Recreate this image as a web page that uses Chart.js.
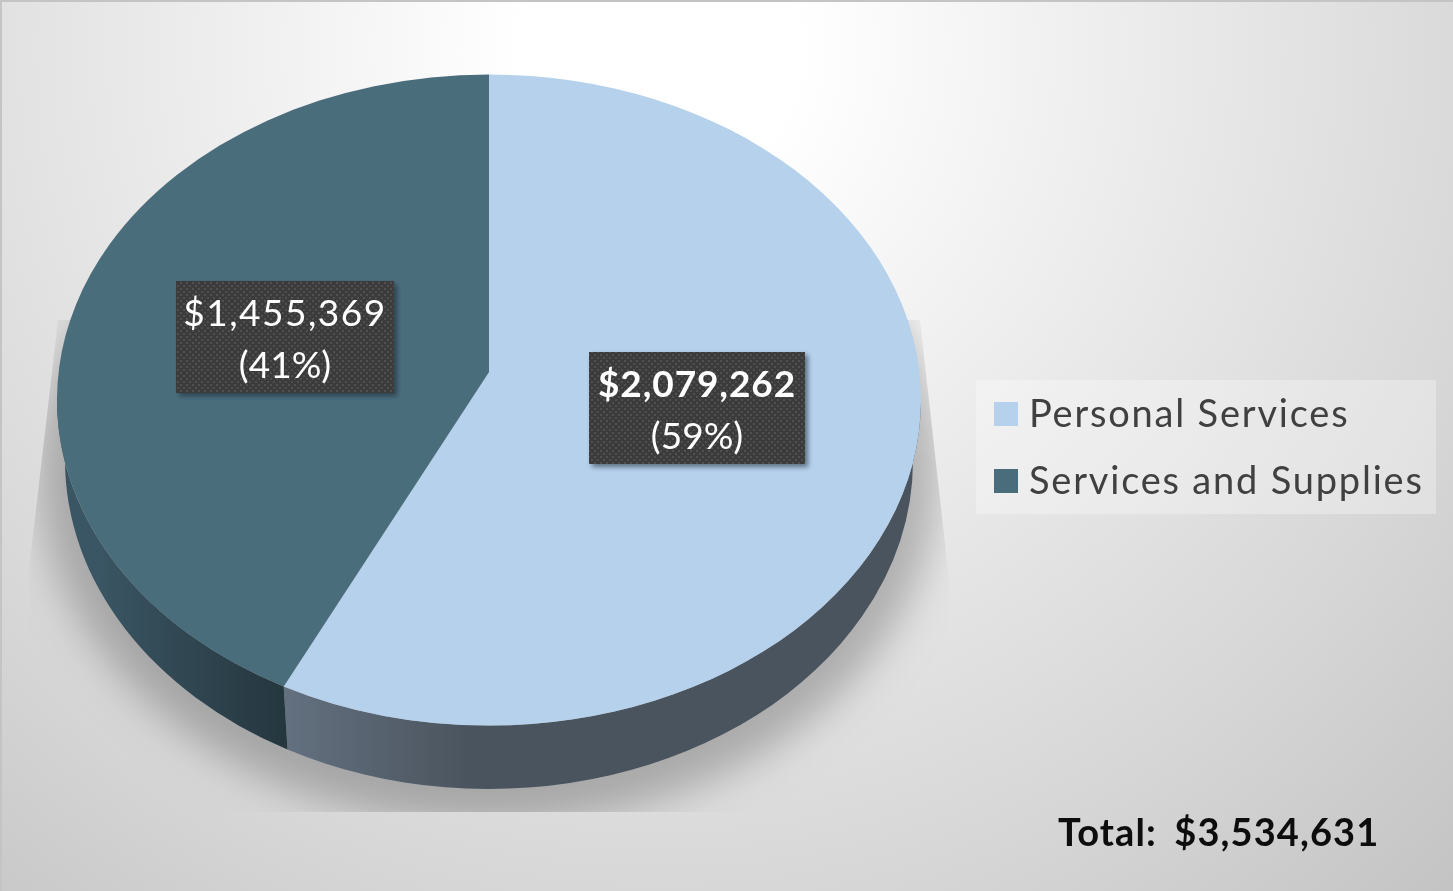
<!DOCTYPE html>
<html>
<head>
<meta charset="utf-8">
<title>Budget</title>
<style>
  html, body { margin: 0; padding: 0; background: #fff; overflow: hidden; }
  canvas { display: block; }
</style>
<script src="https://cdn.jsdelivr.net/npm/chart.js@4"></script>
</head>
<body>
<canvas id="budgetChart" width="1453" height="891"></canvas>
<script>
// Chart data
const categories = ['Personal Services', 'Services and Supplies'];
const amounts = [2079262, 1455369];
const sliceColors = ['#b5d1ec', '#4a6d7c'];
const totalLabel = 'Total: $3,534,631';

// Look of the tilted pie
const FONT = 'Lato, "Open Sans", sans-serif';
const TILT = 0.7535;     // top face height / width
const FACE_Y = 400;      // centre of the top face ellipse
const APEX_Y = 372;      // the slices meet above the centre, because of the perspective
const BOTTOM = { y: 460, rx: 424, ry: 329 };
const ANGLE_FIX = 0.0616;

const wallStops = [
  [[287, '#63707f'], [470, '#4a545e']],
  [[100, '#3a5563'], [287, '#25363e']]
];
const labelBoxes = [
  { x: 589, y: 352, w: 216, h: 112, bold: true },
  { x: 176, y: 281, w: 218, h: 112, bold: false }
];

const money = v => '$' + v.toLocaleString('en-US');
const percent = v => Math.round(v / amounts.reduce((a, b) => a + b, 0) * 100) + '%';

// library angle -> ellipse parameter on screen
const screenAngle = a => {
  const t = a + Math.PI / 2;
  return a - ANGLE_FIX * Math.sin(t / 2);
};

const dotPattern = (ctx) => {
  const tile = document.createElement('canvas');
  tile.width = 6; tile.height = 6;
  const t = tile.getContext('2d');
  t.fillStyle = '#3b3b3b';
  t.fillRect(0, 0, 6, 6);
  t.fillStyle = '#505050';
  t.fillRect(0, 0, 2, 2);
  t.fillRect(3, 3, 2, 2);
  return ctx.createPattern(tile, 'repeat');
};

const tiltedPie = {
  id: 'tiltedPie',
  beforeDraw(chart) {
    const { ctx, width, height } = chart;
    const arc = chart.getDatasetMeta(0).data[0];

    // background
    const bg = ctx.createRadialGradient(660, 50, 0, 660, 50, 1150);
    bg.addColorStop(0, '#ffffff');
    bg.addColorStop(0.12, '#ffffff');
    bg.addColorStop(0.75, '#d6d6d6');
    bg.addColorStop(1, '#c4c4c4');
    ctx.fillStyle = bg;
    ctx.fillRect(0, 0, width, height);
    ctx.fillStyle = '#c4c4c4';
    ctx.fillRect(0, 0, width, 2);
    ctx.fillRect(0, 0, 2, height);

    // floor shadow, cut off by a hard edged trapezoid
    ctx.save();
    ctx.beginPath();
    ctx.moveTo(58, 320);
    ctx.lineTo(29, 570);
    ctx.lineTo(29, 812);
    ctx.lineTo(949, 812);
    ctx.lineTo(949, 580);
    ctx.lineTo(920, 320);
    ctx.closePath();
    ctx.clip();
    // the ellipse itself sits off the canvas, only its shadow lands on the page
    ctx.shadowColor = 'rgba(0,0,0,0.24)';
    ctx.shadowBlur = 40;
    ctx.shadowOffsetX = 3000;
    ctx.fillStyle = '#000';
    ctx.beginPath();
    ctx.ellipse(arc.x - 3000, 470, 450, 355, 0, 0, Math.PI * 2);
    ctx.fill();
    ctx.restore();
  },
  beforeDatasetDraw(chart) {
    const { ctx } = chart;
    const arcs = chart.getDatasetMeta(0).data;
    const rx = arcs[0].outerRadius;
    const ry = rx * TILT;

    // side walls, only the front half can be seen
    arcs.forEach((arc, i) => {
      const from = Math.max(screenAngle(arc.startAngle), 0);
      const to = Math.min(screenAngle(arc.endAngle), Math.PI);
      if (to <= from) return;
      const stops = wallStops[i];
      const grad = ctx.createLinearGradient(stops[0][0], 0, stops[1][0], 0);
      grad.addColorStop(0, stops[0][1]);
      grad.addColorStop(1, stops[1][1]);
      ctx.fillStyle = grad;
      ctx.beginPath();
      ctx.ellipse(arc.x, FACE_Y, rx, ry, 0, from, to);
      ctx.ellipse(arc.x, BOTTOM.y, BOTTOM.rx, BOTTOM.ry, 0, to, from, true);
      ctx.closePath();
      ctx.fill();
    });

    // top face
    arcs.forEach(arc => {
      ctx.fillStyle = arc.options.backgroundColor;
      ctx.beginPath();
      ctx.moveTo(arc.x, APEX_Y);
      ctx.ellipse(arc.x, FACE_Y, rx, ry, 0, screenAngle(arc.startAngle), screenAngle(arc.endAngle));
      ctx.closePath();
      ctx.fill();
    });
    return false;
  },
  afterDraw(chart) {
    const { ctx } = chart;
    const pattern = dotPattern(ctx);

    // value labels
    labelBoxes.forEach((box, i) => {
      ctx.save();
      ctx.shadowColor = 'rgba(20,30,40,0.55)';
      ctx.shadowBlur = 5;
      ctx.shadowOffsetX = 3;
      ctx.shadowOffsetY = 3;
      ctx.fillStyle = '#3b3b3b';
      ctx.fillRect(box.x, box.y, box.w, box.h);
      ctx.restore();
      ctx.fillStyle = pattern;
      ctx.fillRect(box.x, box.y, box.w, box.h);

      ctx.fillStyle = '#ffffff';
      ctx.textAlign = 'center';
      ctx.textBaseline = 'middle';
      ctx.letterSpacing = box.bold ? '0.9px' : '1.5px';
      ctx.font = (box.bold ? 'bold ' : '') + '37px ' + FONT;
      ctx.fillText(money(amounts[i]), box.x + box.w / 2, box.y + 33);
      ctx.letterSpacing = '0px';
      ctx.font = '37px ' + FONT;
      ctx.fillText('(' + percent(amounts[i]) + ')', box.x + box.w / 2, box.y + 85);
    });

    // legend
    ctx.fillStyle = 'rgba(255,255,255,0.3)';
    ctx.fillRect(976, 380, 460, 134);
    ctx.textAlign = 'left';
    ctx.textBaseline = 'middle';
    ctx.font = '38px ' + FONT;
    ctx.letterSpacing = '1.8px';
    categories.forEach((name, i) => {
      const y = 414 + i * 67;
      ctx.fillStyle = sliceColors[i];
      ctx.fillRect(994, y - 12, 24, 24);
      ctx.fillStyle = '#404040';
      ctx.fillText(name, 1029, y + 1);
    });

    // total
    ctx.letterSpacing = '1.1px';
    ctx.wordSpacing = '7px';
    ctx.fillStyle = '#0d0d0d';
    ctx.font = 'bold 38px ' + FONT;
    ctx.fillText(totalLabel, 1058, 834);
    ctx.letterSpacing = '0px';
    ctx.wordSpacing = '0px';
  }
};

new Chart(document.getElementById('budgetChart'), {
  type: 'pie',
  data: {
    labels: categories,
    datasets: [{
      data: amounts,
      backgroundColor: sliceColors,
      borderWidth: 0
    }]
  },
  options: {
    responsive: false,
    animation: false,
    devicePixelRatio: 1,
    layout: { padding: { left: 57, right: 532, top: 13, bottom: 14 } },
    plugins: {
      legend: { display: false },
      tooltip: { enabled: false }
    }
  },
  plugins: [tiltedPie]
});
</script>
</body>
</html>
